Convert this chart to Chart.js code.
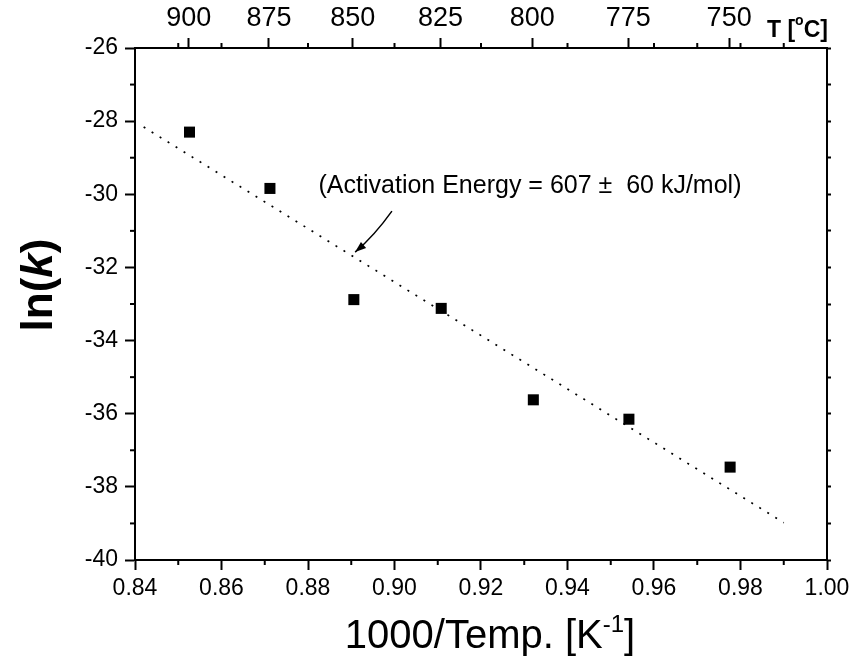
<!DOCTYPE html>
<html>
<head>
<meta charset="utf-8">
<script src="https://cdn.jsdelivr.net/npm/chart.js@4.4.1/dist/chart.umd.min.js"></script>
<style>
  html, body { margin: 0; padding: 0; background: #fff; }
  canvas { display: block; }
</style>
</head>
<body>
<canvas id="arrhenius" width="855" height="666"></canvas>
<script>
// measured points: 1000/T [1/K] vs ln(k)
const invT = [0.8526, 0.8712, 0.8906, 0.9108, 0.9321, 0.9542, 0.9776]
const lnK = [-28.30, -29.84, -32.88, -33.12, -35.62, -36.15, -37.46]

// dotted fit line end points
const fitX = [0.842, 0.990]
const fitY = [-28.16, -38.98]

// top axis: temperature in deg C
const topTemps = [900, 875, 850, 825, 800, 775, 750]
const topMinor = [0.85, 0.86, 0.88, 0.90, 0.92, 0.94, 0.96, 0.97, 0.98, 0.99]
const xMinor = [0.85, 0.87, 0.89, 0.91, 0.93, 0.95, 0.97, 0.99]
const yMinor = [-27, -29, -31, -33, -35, -37, -39]

// arrow of the note: start, bend, tip (data units)
const arrowX = [0.8994, 0.8953, 0.8909]
const arrowY = [-30.46, -31.14, -31.58]

const FONT = "'Liberation Sans', Arial, sans-serif"
const NARROW = "'Liberation Sans Narrow', 'Arial Narrow', 'Liberation Sans', sans-serif"

const extras = {
    id: "extras",
    afterDraw(chart) {
        const ctx = chart.ctx
        const { x, y, x2 } = chart.scales
        const area = chart.chartArea
        ctx.save()
        ctx.strokeStyle = "#000"
        ctx.fillStyle = "#000"
        ctx.lineWidth = 2

        function seg(a, b, c, d) {
            ctx.beginPath()
            ctx.moveTo(a, b)
            ctx.lineTo(c, d)
            ctx.stroke()
        }
        // minor ticks
        xMinor.forEach(v => { let p = x.getPixelForValue(v); seg(p, area.bottom, p, area.bottom + 5) })
        topMinor.forEach(v => { let p = x2.getPixelForValue(v); seg(p, area.top, p, area.top - 5) })
        yMinor.forEach(v => { let p = y.getPixelForValue(v); seg(area.left, p, area.left - 5, p) })

        // x title with superscript
        ctx.textBaseline = "alphabetic"
        ctx.textAlign = "left"
        let big = "40px " + FONT, small = "24px " + FONT
        ctx.font = big
        let w1 = ctx.measureText("1000/Temp. [K").width
        let w3 = ctx.measureText("]").width
        ctx.font = small
        let w2 = ctx.measureText("-1").width
        let sx = 490 - (w1 + w2 + w3) / 2
        let by = 648
        ctx.font = big
        ctx.fillText("1000/Temp. [K", sx, by)
        ctx.font = small
        ctx.fillText("-1", sx + w1, by - 16)
        ctx.font = big
        ctx.fillText("]", sx + w1 + w2, by)

        // y title ln(k)
        ctx.save()
        ctx.translate(52, 285)
        ctx.rotate(-Math.PI / 2)
        let yb = "bold 44px " + FONT, yi = "italic bold 44px " + FONT
        ctx.font = yb
        let a1 = ctx.measureText("ln(").width
        let a3 = ctx.measureText(")").width
        ctx.font = yi
        let a2 = ctx.measureText("k").width
        let s0 = -(a1 + a2 + a3) / 2
        ctx.font = yb
        ctx.fillText("ln(", s0, 0)
        ctx.font = yi
        ctx.fillText("k", s0 + a1, 0)
        ctx.font = yb
        ctx.fillText(")", s0 + a1 + a2, 0)
        ctx.restore()

        // T [oC] at the end of the top axis
        let tb = "bold 23px " + FONT
        ctx.font = tb
        let t1 = ctx.measureText("T [").width
        ctx.font = "bold 14px " + FONT
        let t2 = ctx.measureText("o").width
        let tx = 767, ty = 37
        ctx.font = tb
        ctx.fillText("T [", tx, ty)
        ctx.font = "bold 14px " + FONT
        ctx.fillText("o", tx + t1, ty - 12)
        ctx.font = tb
        ctx.fillText("C]", tx + t1 + t2, ty)

        // note
        ctx.font = "25px " + FONT
        ctx.textAlign = "center"
        ctx.textBaseline = "middle"
        ctx.fillText("(Activation Energy = 607 \u00b1  60 kJ/mol)", 530, 186)

        // curved arrow
        let px = arrowX.map(v => x.getPixelForValue(v))
        let py = arrowY.map(v => y.getPixelForValue(v))
        ctx.lineWidth = 1.5
        ctx.beginPath()
        ctx.moveTo(px[0], py[0])
        ctx.quadraticCurveTo(px[1], py[1], px[2], py[2])
        ctx.stroke()
        let ang = Math.atan2(py[2] - py[1], px[2] - px[1])
        ctx.beginPath()
        ctx.moveTo(px[2], py[2])
        ctx.lineTo(px[2] - 11 * Math.cos(ang) + 4 * Math.sin(ang), py[2] - 11 * Math.sin(ang) - 4 * Math.cos(ang))
        ctx.lineTo(px[2] - 11 * Math.cos(ang) - 4 * Math.sin(ang), py[2] - 11 * Math.sin(ang) + 4 * Math.cos(ang))
        ctx.closePath()
        ctx.fill()

        ctx.restore()
    }
}

let points = invT.map((v, i) => ({ x: v, y: lnK[i] }))
let fitLine = fitX.map((v, i) => ({ x: v, y: fitY[i] }))

let tickFont = { family: FONT, size: 23 }
let frameGrid = { drawOnChartArea: false, tickLength: 10, tickWidth: 2, tickColor: "#000" }
let frameBorder = { display: true, width: 2, color: "#000" }

new Chart(document.getElementById("arrhenius"), {
    type: "scatter",
    data: {
        datasets: [{
            label: "fit",
            data: fitLine,
            showLine: true,
            borderColor: "#000",
            borderWidth: 1.7,
            borderDash: [2, 7.4],
            pointRadius: 0,
            fill: false
        }, {
            label: "ln(k)",
            data: points,
            pointStyle: "rect",
            pointRadius: 7.8,
            backgroundColor: "#000",
            borderColor: "#000",
            borderWidth: 0
        }]
    },
    options: {
        responsive: false,
        animation: false,
        layout: { padding: 0 },
        plugins: { legend: { display: false }, tooltip: { enabled: false } },
        scales: {
            x: {
                type: "linear", position: "bottom", min: 0.84, max: 1.0,
                ticks: { stepSize: 0.02, autoSkip: false, maxRotation: 0, color: "#000", font: tickFont, padding: 5,
                    callback: v => v.toFixed(2) },
                grid: frameGrid, border: frameBorder,
                afterFit(s) { s.height = 106 }
            },
            x2: {
                type: "linear", position: "top", min: 0.84, max: 1.0,
                afterBuildTicks(s) { s.ticks = topTemps.map(t => ({ value: 1000 / (t + 273.15) })) },
                ticks: { autoSkip: false, maxRotation: 0, color: "#000", font: { family: NARROW, size: 27 }, padding: 3,
                    callback: (v, i) => String(topTemps[i]) },
                grid: frameGrid, border: frameBorder,
                afterFit(s) { s.height = 48 }
            },
            y: {
                min: -40, max: -26,
                ticks: { stepSize: 2, color: "#000", font: tickFont, padding: 7, callback: v => String(v) },
                grid: frameGrid, border: frameBorder,
                afterFit(s) { s.width = 135 }
            },
            y2: {
                position: "right", min: -40, max: -26,
                ticks: { display: false, stepSize: 1 },
                grid: { drawOnChartArea: false, tickLength: 4, tickWidth: 2, tickColor: "#000" },
                border: frameBorder,
                afterFit(s) { s.width = 28 }
            }
        }
    },
    plugins: [extras]
})
</script>
</body>
</html>
